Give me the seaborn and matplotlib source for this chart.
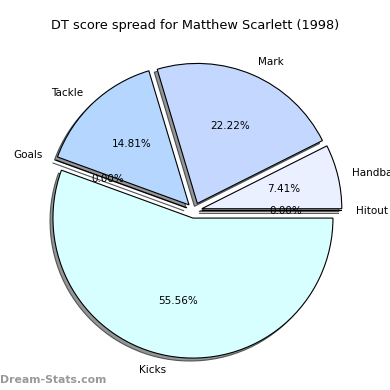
import matplotlib
matplotlib.use("Agg")
import matplotlib.pyplot as plt
import seaborn as sns

# DT score spread, counter-clockwise from 0 degrees
labels = ["Hitout", "Handball", "Mark", "Tackle", "Goals", "Kicks"]
shares = [0.0, 7.41, 22.22, 14.81, 0.0, 55.56]
colours = ["#F0F4FF", "#EAF0FF", "#C4D8FF", "#B4D6FF", "#D0E8FF", "#D8FFFF"]
explode = [0.055, 0.055, 0.055, 0.055, 0.055, 0.055]

sns.set_style("white")
plt.rcParams["font.family"] = ["DejaVu Sans"]
plt.rcParams["text.color"] = "black"

fig = plt.figure(figsize=(3.9, 3.9), dpi=100)
ax = fig.add_axes([0, 0, 1, 1])

wedges, texts, autotexts = ax.pie(
    shares,
    labels=labels,
    colors=colours,
    explode=explode,
    autopct="%.2f%%",
    startangle=0,
    shadow={"ox": -0.015, "oy": -0.015, "facecolor": "#8a8a8a", "alpha": 0.9},
    normalize=True,
    wedgeprops={"edgecolor": "black", "linewidth": 0.8},
    textprops={"fontsize": 7.5, "color": "black"},
)

# place the pie so 1 unit = 140 px, centre at (194.3, 210.5) px from top-left
r = 140.0
cx, cy = 194.3, 390 - 210.5
ax.set_xlim(-cx / r, (390 - cx) / r)
ax.set_ylim(-cy / r, (390 - cy) / r)
ax.set_aspect("equal")
ax.axis("off")

fig.text(0.5, 1 - 25 / 390, "DT score spread for Matthew Scarlett (1998)",
         ha="center", va="center", fontsize=9.3, color="black")
fig.text(0.0, 1 - 380 / 390, "Dream-Stats.com", ha="left", va="center",
         fontsize=7.8, color="#999999", fontweight="semibold")

fig.savefig("out.png", dpi=100)
